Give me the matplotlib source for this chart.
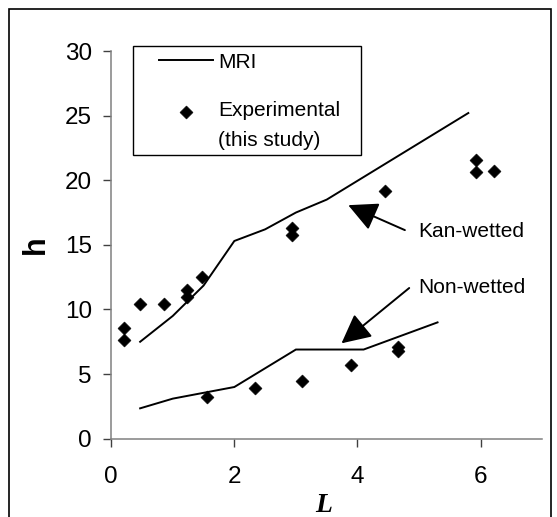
import matplotlib
matplotlib.use("Agg")
import matplotlib.pyplot as plt
from matplotlib.lines import Line2D
from matplotlib.patches import Rectangle
from matplotlib.legend_handler import HandlerPathCollection

# MRI model curves
kan_L = [0.47, 1.0, 1.5, 2.0, 2.5, 3.0, 3.5, 5.8]
kan_h = [7.5, 9.5, 11.85, 15.3, 16.2, 17.5, 18.5, 25.2]
non_L = [0.47, 1.0, 2.0, 3.0, 4.1, 5.3]
non_h = [2.35, 3.1, 4.0, 6.9, 6.9, 9.0]

# Experimental measurements (this study)
exp_kan_L = [0.2, 0.2, 0.47, 0.86, 1.23, 1.23, 1.48, 2.94, 2.94, 4.44, 5.93, 5.93, 6.22]
exp_kan_h = [7.6, 8.55, 10.4, 10.4, 11.0, 11.5, 12.55, 15.8, 16.3, 19.2, 20.6, 21.55, 20.7]
exp_non_L = [1.55, 2.34, 3.1, 3.89, 4.66, 4.66]
exp_non_h = [3.25, 3.9, 4.5, 5.7, 6.75, 7.1]

x_ticks = [0, 2, 4, 6]
y_ticks = [0, 5, 10, 15, 20, 25, 30]

SANS = "Liberation Sans"
SERIF = "Liberation Serif"
plt.rcParams["font.family"] = SANS

W, H = 557, 517
fig = plt.figure(figsize=(W / 100, H / 100), dpi=100)
ax = fig.add_axes([111.2 / W, 78.3 / H, 431.0 / W, 387.7 / H])

# outer frame (open at the bottom edge)
fig.patches.append(Rectangle((8.9 / W, -0.05), (550.6 - 8.9) / W, 1.05 - 9.3 / H,
                             transform=fig.transFigure, fill=False,
                             edgecolor="black", linewidth=1.2))

line_kw = dict(color="black", linewidth=1.4, solid_joinstyle="miter")
ax.plot(kan_L, kan_h, **line_kw)
ax.plot(non_L, non_h, **line_kw)
exp_kw = dict(marker="D", s=44, color="black", linewidths=0.4, zorder=3)
sc = ax.scatter(exp_kan_L, exp_kan_h, **exp_kw)
ax.scatter(exp_non_L, exp_non_h, **exp_kw)

ax.set_xlim(0, 7)
ax.set_ylim(0, 30)
ax.set_xticks(x_ticks)
ax.set_yticks(y_ticks)
for side in ("top", "right"):
    ax.spines[side].set_visible(False)
for side in ("left", "bottom"):
    ax.spines[side].set_color("#808080")
    ax.spines[side].set_linewidth(1.1)
ax.tick_params(axis="both", direction="out", length=6, width=1.0,
               color="#404040", labelsize=17.5)
ax.tick_params(axis="x", pad=13.5)
ax.tick_params(axis="y", pad=8)

ax.set_xlabel("L", fontfamily=SERIF, fontweight="bold", fontstyle="italic",
              fontsize=20)
ax.xaxis.set_label_coords(0.494, -0.141)
ax.set_ylabel("h", fontweight="bold", fontsize=22)
ax.yaxis.set_label_coords(-0.14, 0.5)

# callouts for the two curves
arrow_kw = dict(arrowstyle="-|>,head_length=0.9,head_width=0.45", color="black",
                lw=1.4, shrinkA=0, shrinkB=0, mutation_scale=20)
ax.annotate("", xy=(3.85, 18.07), xytext=(4.77, 16.14), arrowprops=arrow_kw)
ax.annotate("", xy=(3.74, 7.38), xytext=(4.84, 11.66), arrowprops=arrow_kw)
ax.text(4.99, 15.63, "Kan-wetted", fontsize=15, va="baseline", ha="left")
ax.text(4.99, 11.30, "Non-wetted", fontsize=15, va="baseline", ha="left")

# legend with a hand-placed frame
handles = [Line2D([], [], color="black", linewidth=1.4), sc]
labels = ["MRI", "Experimental\n(this study)"]
leg = ax.legend(handles, labels, loc="upper left",
                bbox_to_anchor=(158.8 / W, 1 - 52.5 / H),
                bbox_transform=fig.transFigure, frameon=False,
                borderpad=0, borderaxespad=0, handlelength=2.6,
                handletextpad=0.26, labelspacing=1.4, fontsize=15,
                handler_map={sc: HandlerPathCollection(yoffsets=[1.45])})
for t in leg.get_texts():
    t.set_linespacing(1.75)
fig.patches.append(Rectangle((133.2 / W, 1 - 155.3 / H), (361.3 - 133.2) / W,
                             (155.3 - 45.6) / H, transform=fig.transFigure,
                             fill=False, edgecolor="black", linewidth=1.0))

fig.savefig("out.png", dpi=100)
